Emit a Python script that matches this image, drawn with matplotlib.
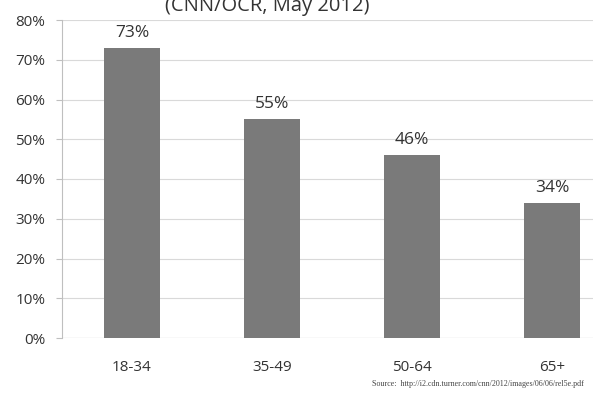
import matplotlib.pyplot as plt
from matplotlib.ticker import FuncFormatter

# data
ages = ['18-34', '35-49', '50-64', '65+']
shares = [73, 55, 46, 34]
yticks = [0, 10, 20, 30, 40, 50, 60, 70, 80]

plt.rcParams['font.family'] = ['Open Sans', 'DejaVu Sans']

fig = plt.figure(figsize=(5.93, 3.93), dpi=100)
ax = fig.add_axes([62/593, 1 - 338/393, 560/593, 318/393])

x = range(len(ages))
ax.bar(x, shares, width=0.4, color='#7a7a7a', zorder=3)
for xi, v in zip(x, shares):
    ax.text(xi, v + 1.8, f'{v}%', ha='center', va='bottom', fontsize=12.5, color='#333333')

ax.set_xlim(-0.5, 3.5)
ax.set_ylim(0, 80)
ax.set_yticks(yticks)
ax.yaxis.set_major_formatter(FuncFormatter(lambda v, p: f'{v:.0f}%'))
ax.set_xticks(list(x))
ax.set_xticklabels(ages)
ax.grid(axis='y', color='#d9d9d9', linewidth=0.8, zorder=0)
for s in ['top', 'right', 'bottom']:
    ax.spines[s].set_visible(False)
ax.spines['left'].set_color('#bfbfbf')
ax.axhline(0, color='#bfbfbf', linewidth=0.8, zorder=2)
ax.tick_params(axis='y', length=4, color='#bfbfbf', labelsize=11, labelcolor='#333333', pad=8)
ax.tick_params(axis='x', length=0, labelsize=11, labelcolor='#333333', pad=16)

# title is partly cut off at the top edge, as in the source image
fig.text(267/593, 1 - 6/393, '(CNN/OCR, May 2012)', ha='center', va='center',
         fontsize=14.5, color='#333333')
fig.text(584/593, 1 - 384/393,
         'Source:  http://i2.cdn.turner.com/cnn/2012/images/06/06/rel5e.pdf',
         ha='right', va='center', fontsize=5.8, family='Liberation Serif', color='#444444')

fig.savefig('out.png', dpi=100)
